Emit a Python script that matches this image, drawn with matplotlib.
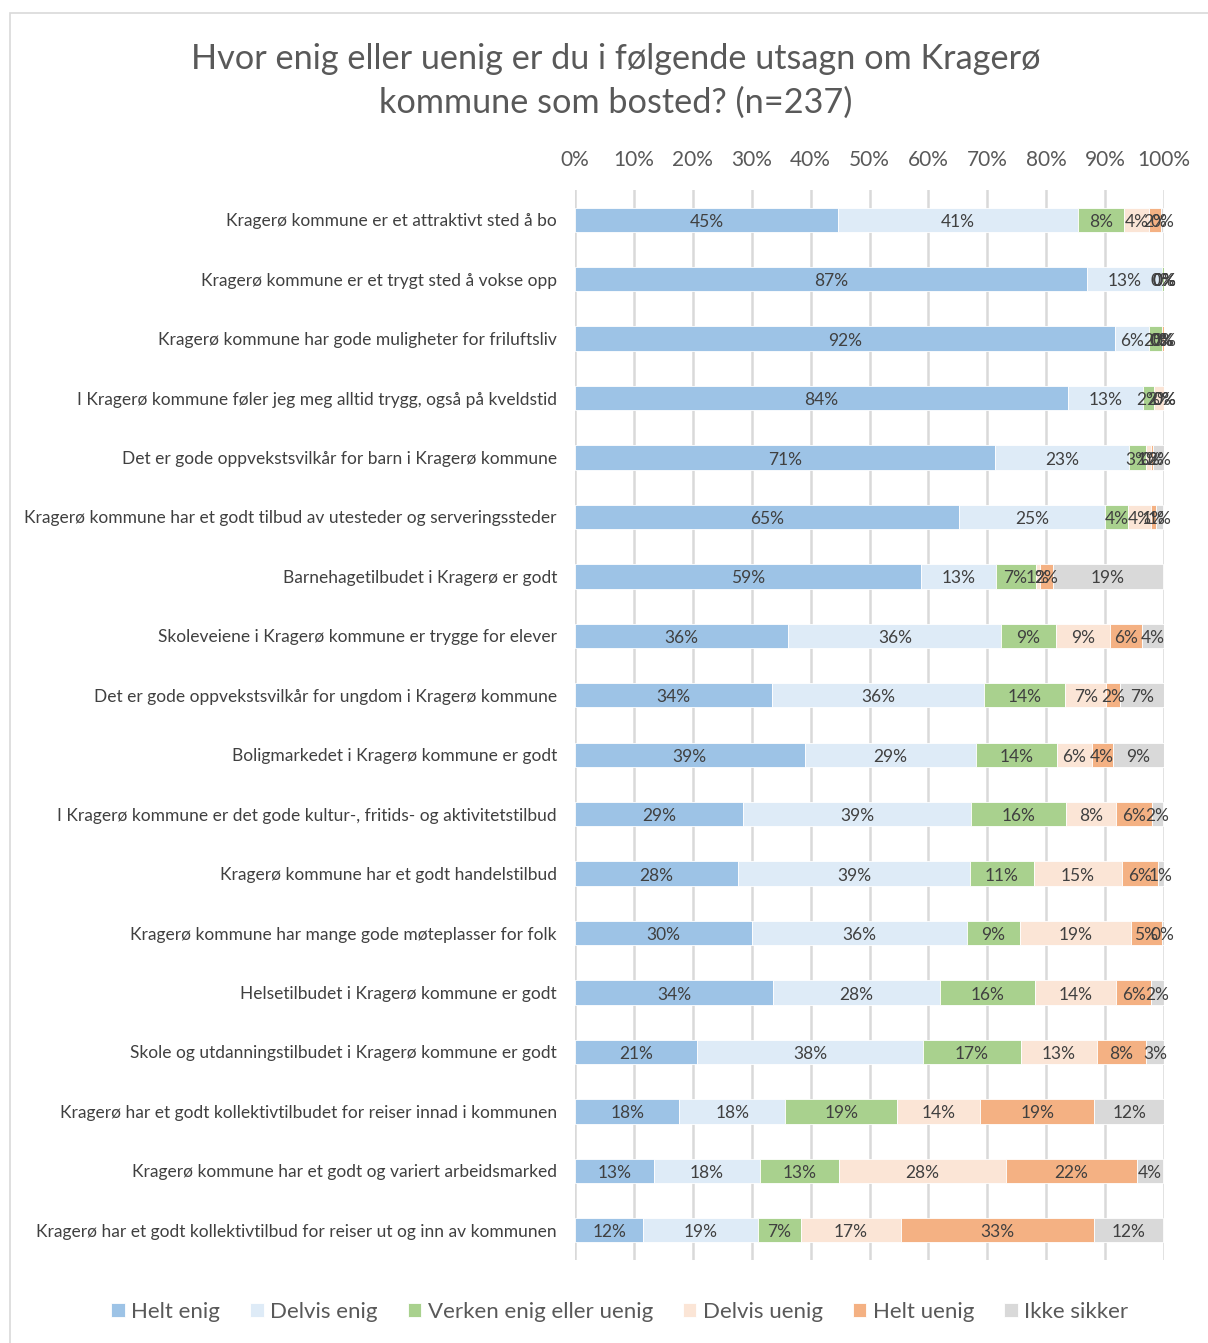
import matplotlib.pyplot as plt
from matplotlib.patches import Rectangle

plt.rcParams['font.family'] = ['Lato', 'DejaVu Sans']

utsagn = [
    "Kragerø kommune er et attraktivt sted å bo",
    "Kragerø kommune er et trygt sted å vokse opp",
    "Kragerø kommune har gode muligheter for friluftsliv",
    "I Kragerø kommune føler jeg meg alltid trygg, også på kveldstid",
    "Det er gode oppvekstsvilkår for barn i Kragerø kommune",
    "Kragerø kommune har et godt tilbud av utesteder og serveringssteder",
    "Barnehagetilbudet i Kragerø er godt",
    "Skoleveiene i Kragerø kommune er trygge for elever",
    "Det er gode oppvekstsvilkår for ungdom i Kragerø kommune",
    "Boligmarkedet i Kragerø kommune er godt",
    "I Kragerø kommune er det gode kultur-, fritids- og aktivitetstilbud",
    "Kragerø kommune har et godt handelstilbud",
    "Kragerø kommune har mange gode møteplasser for folk",
    "Helsetilbudet i Kragerø kommune er godt",
    "Skole og utdanningstilbudet i Kragerø kommune er godt",
    "Kragerø har et godt kollektivtilbudet for reiser innad i kommunen",
    "Kragerø kommune har et godt og variert arbeidsmarked",
    "Kragerø har et godt kollektivtilbud for reiser ut og inn av kommunen",
]

svar = ["Helt enig", "Delvis enig", "Verken enig eller uenig",
        "Delvis uenig", "Helt uenig", "Ikke sikker"]

helt_enig    = [44.6, 86.9, 91.6, 83.7, 71.3, 65.2, 58.7, 36.2, 33.5, 39.0, 28.6, 27.7, 30.1, 33.6, 20.7, 17.7, 13.4, 11.6]
delvis_enig  = [40.8, 12.7, 5.9, 12.7, 22.8, 24.8, 12.7, 36.2, 35.9, 29.0, 38.7, 39.4, 36.4, 28.4, 38.4, 18.0, 18.0, 19.4]
verken       = [7.8, 0.4, 2.1, 1.9, 2.9, 3.9, 6.8, 9.2, 13.8, 13.8, 16.1, 10.8, 9.0, 16.1, 16.6, 19.0, 13.4, 7.3]
delvis_uenig = [4.2, 0.0, 0.0, 1.7, 0.8, 3.9, 0.7, 9.2, 7.0, 5.9, 8.4, 14.9, 18.9, 13.8, 12.9, 14.1, 28.4, 17.0]
helt_uenig   = [2.1, 0.0, 0.4, 0.0, 0.4, 0.8, 2.2, 5.5, 2.4, 3.6, 6.1, 6.2, 5.2, 5.9, 8.3, 19.4, 22.2, 32.9]
ikke_sikker  = [0.4, 0.0, 0.0, 0.0, 1.8, 1.3, 18.8, 3.7, 7.4, 8.7, 2.0, 1.0, 0.4, 2.2, 3.1, 11.9, 4.4, 11.7]

farger = ["#9DC3E6", "#DEEBF7", "#A9D18E", "#FBE5D6", "#F4B183", "#D9D9D9"]

serier = [helt_enig, delvis_enig, verken, delvis_uenig, helt_uenig, ikke_sikker]

fig = plt.figure(figsize=(12.08, 13.43), dpi=100)

# ramme rundt diagrammet
fig.patches.append(Rectangle((10 / 1208, -0.01), 1.1, 1 - 13 / 1343 + 0.01,
                             transform=fig.transFigure, fill=False,
                             edgecolor="#D9D9D9", linewidth=1.2))

ax = fig.add_axes([575 / 1208, 1 - 1260 / 1343, 589 / 1208, 1070 / 1343])

y = list(range(len(utsagn)))
venstre = [0.0] * len(utsagn)
for navn, verdier, farge in zip(svar, serier, farger):
    stolper = ax.barh(y, verdier, left=venstre, height=0.41, color=farge,
                      edgecolor="white", linewidth=0.6, label=navn, zorder=2)
    etiketter = ax.bar_label(stolper, labels=[f"{int(v + 0.5)}%" for v in verdier],
                             label_type="center", fontsize=12.5, color="#404040")
    for e in etiketter:
        e.xyann = (0, -1.5)
    venstre = [a + b for a, b in zip(venstre, verdier)]

ax.set_xlim(0, 100)
ax.set_ylim(len(utsagn) - 0.5, -0.5)
ax.set_xticks(range(0, 101, 10))
ax.set_xticklabels([f"{t}%" for t in range(0, 101, 10)])
ax.xaxis.tick_top()
ax.tick_params(axis="x", length=0, labelsize=15, labelcolor="#595959", pad=14.5)
ax.set_yticks(y)
ax.set_yticklabels(utsagn)
ax.tick_params(axis="y", length=0, labelsize=12.5, labelcolor="#404040", pad=13)
ax.grid(axis="x", color="#D9D9D9", linewidth=1.8, zorder=0)
for s in ax.spines.values():
    s.set_visible(False)

fig.text(616 / 1208, 1 - 81 / 1343,
         "Hvor enig eller uenig er du i følgende utsagn om Kragerø\nkommune som bosted? (n=237)",
         ha="center", va="center", fontsize=24.7, color="#595959", linespacing=1.45)

fig.legend(loc="center", bbox_to_anchor=(620 / 1208, 1 - 1312 / 1343), ncol=6,
           frameon=False, fontsize=16, labelcolor="#595959", handlelength=0.6,
           handleheight=0.6, handletextpad=0.3, columnspacing=1.35)

fig.savefig("out.png", dpi=100)
